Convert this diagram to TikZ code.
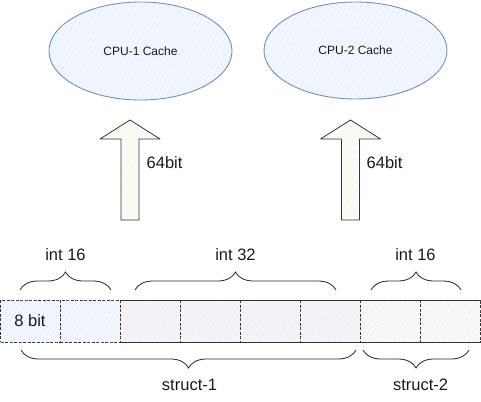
\documentclass[tikz,border=0pt]{standalone}
\usepackage{fontspec}
\setmainfont{Liberation Sans}
\usetikzlibrary{decorations.pathreplacing,patterns.meta}
\definecolor{txt}{HTML}{1A1A1A}
\definecolor{bluestroke}{HTML}{6C8EBF}
\definecolor{bluefill}{HTML}{F2F6FD}
\definecolor{bluehatch}{HTML}{CADAF2}
\definecolor{purplefill}{HTML}{F7F4F9}
\definecolor{purplehatch}{HTML}{DCD3E6}
\definecolor{grayfill}{HTML}{F9F9FA}
\definecolor{grayhatch}{HTML}{DCDAE2}
\definecolor{arrowfill}{HTML}{FBFAF4}
\definecolor{arrowhatch}{HTML}{E6E3D6}
\tikzset{
  cache/.style={draw=bluestroke, line width=0.9pt, fill=bluefill,
     postaction={pattern={Lines[angle=60,distance=4pt,line width=0.5pt]}, pattern color=bluehatch}},
  cell/.style={draw=black!80, dash pattern=on 3pt off 1.5pt, line width=0.7pt, minimum width=60pt, minimum height=42pt,
     inner sep=0pt, anchor=north west},
  bluecell/.style={cell, fill=bluefill, postaction={pattern={Lines[angle=60,distance=4pt,line width=0.5pt]}, pattern color=bluehatch}},
  purplecell/.style={cell, fill=purplefill, postaction={pattern={Lines[angle=60,distance=4pt,line width=0.5pt]}, pattern color=purplehatch}},
  graycell/.style={cell, fill=grayfill, postaction={pattern={Lines[angle=60,distance=4pt,line width=0.5pt]}, pattern color=grayhatch}},
  edge/.style={draw=black!80, line width=0.8pt},
  lbl/.style={text=txt, font=\fontsize{16.5}{18}\selectfont, inner sep=0pt},
  smalllbl/.style={text=txt, font=\fontsize{12}{14}\selectfont, inner sep=0pt},
  bigarrow/.style={draw=black!80, line width=0.8pt, line join=round, fill=arrowfill,
     postaction={pattern={Lines[angle=60,distance=4pt,line width=0.4pt]}, pattern color=arrowhatch}},
  topbrace/.style={draw=black!85, line width=0.8pt, decorate, decoration={brace, amplitude=18pt}},
}
\begin{document}
\begin{tikzpicture}[x=1pt,y=-1pt]
\useasboundingbox (0,0) rectangle (481,401);

% caches
\draw[cache] (140.5,51) ellipse [x radius=91.5, y radius=49];
\node[smalllbl] (cpu1) at (140.5,51) {CPU-1 Cache};
\draw[cache] (355.5,50.5) ellipse [x radius=91.5, y radius=48.5];
\node[smalllbl] (cpu2) at (355.5,50.5) {CPU-2 Cache};

% block arrows
\draw[bigarrow] (130,120) -- (160,139) -- (139,139) -- (139,220) -- (121,220) -- (121,139) -- (100,139) -- cycle;
\draw[bigarrow] (350.5,120) -- (380.5,139) -- (359.5,139) -- (359.5,220) -- (341.5,220) -- (341.5,139) -- (320.5,139) -- cycle;
\node[lbl, anchor=west] (b1) at (146.5,163) {64bit};
\node[lbl, anchor=west] (b2) at (366.5,163) {64bit};

% cells
\node[bluecell] (c1) at (0.4,300) {};
\node[bluecell] (c2) at (60,300) {};
\node[purplecell] (c3) at (120,300) {};
\node[purplecell] (c4) at (180,300) {};
\node[purplecell] (c5) at (240,300) {};
\node[purplecell] (c6) at (300,300) {};
\node[graycell] (c7) at (360,300) {};
\node[graycell, minimum width=60.2pt] (c8) at (420,300) {};
\draw[edge] (c3.north west) -- (c8.north east);
\draw[edge] (c3.south west) -- (c8.south east);
\node[lbl] (eight) at (30,321) {8 bit};

% top braces
\coordinate (t1a) at (20,290);  \coordinate (t1b) at (111,290);
\coordinate (t2a) at (135,290); \coordinate (t2b) at (336,290);
\coordinate (t3a) at (371,290); \coordinate (t3b) at (461,290);
\draw[topbrace] (t1a) -- (t1b);
\draw[topbrace] (t2a) -- (t2b);
\draw[topbrace] (t3a) -- (t3b);
\node[lbl] (i1) at (65.5,255) {int 16};
\node[lbl] (i2) at (235.5,255) {int 32};
\node[lbl] (i3) at (415.5,255) {int 16};

% bottom braces
\coordinate (s1a) at (21,350);  \coordinate (s1b) at (356,350);
\coordinate (s2a) at (363,350); \coordinate (s2b) at (469,350);
\draw[topbrace] (s1b) -- (s1a);
\draw[topbrace] (s2b) -- (s2a);
\node[lbl] (st1) at (189.5,385) {struct-1};
\node[lbl] (st2) at (420.5,385) {struct-2};
\end{tikzpicture}
\end{document}
